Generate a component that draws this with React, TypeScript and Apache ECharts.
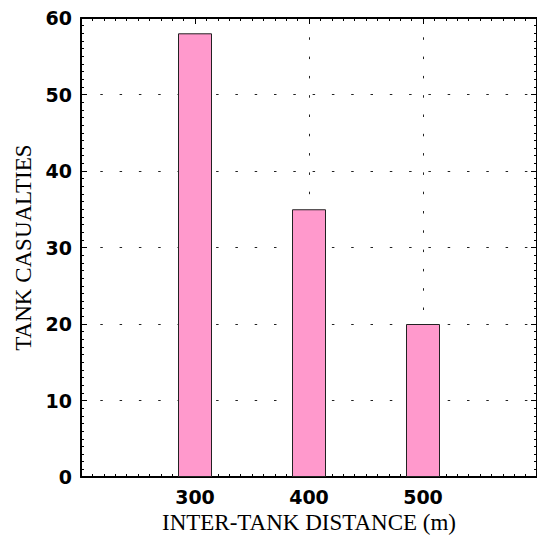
import React, { useEffect, useRef } from "react";
import * as echarts from "echarts";

const distances = [300, 400, 500];
const casualties = [58, 35, 20];
const xTickLabels = ["300", "400", "500"];
const yTickLabels = ["0", "10", "20", "30", "40", "50", "60"];
const xAxisTitle = "INTER-TANK DISTANCE (m)";
const yAxisTitle = "TANK CASUALTIES";

export default function App() {
  const ref = useRef<HTMLDivElement>(null);
  useEffect(() => {
    if (!ref.current) return;
    const chart = echarts.init(ref.current, undefined, { renderer: "svg" });
    const labelFont = { fontFamily: "DejaVu Sans", fontWeight: "bold" as const, fontSize: 19, color: "#000" };
    const nameFont = { fontFamily: "Liberation Serif", fontSize: 23, color: "#000" };
    const gridLine = { show: true, showMinLine: false, showMaxLine: false, lineStyle: { color: "#222", width: 1, type: [2.5, 16.8] as any } };
    const axisLine = { show: true, onZero: false, lineStyle: { color: "#000", width: 2 } };
    const xBase = {
      type: "value" as const,
      min: 200,
      max: 600,
      interval: 100,
      axisLine,
      axisTick: { show: true, inside: true, length: 6, lineStyle: { color: "#000", width: 1 } },
      minorTick: { show: true, splitNumber: 10, length: 3, lineStyle: { color: "#000", width: 1 } },
    };
    const yBase = {
      type: "value" as const,
      min: 0,
      max: 60,
      interval: 10,
      axisLine,
      axisTick: { show: true, inside: true, length: 6, lineStyle: { color: "#000", width: 1 } },
      minorTick: { show: true, splitNumber: 10, length: 3, lineStyle: { color: "#000", width: 1 } },
    };
    chart.setOption({
      animation: false,
      grid: { left: 81, top: 18, width: 459, bottom: 57, containLabel: false },
      xAxis: [
        {
          ...xBase,
          position: "bottom",
          name: xAxisTitle,
          nameLocation: "middle",
          nameGap: 34,
          nameTextStyle: nameFont,
          axisLabel: {
            ...labelFont,
            margin: 10,
            showMinLabel: false,
            showMaxLabel: false,
            formatter: (v: number) => (xTickLabels.includes(String(v)) ? String(v) : ""),
          },
          splitLine: gridLine,
        },
        { ...xBase, position: "top", axisLabel: { show: false }, splitLine: { show: false } },
      ],
      yAxis: [
        {
          ...yBase,
          position: "left",
          name: yAxisTitle,
          nameLocation: "middle",
          nameRotate: 90,
          nameGap: 46,
          nameTextStyle: nameFont,
          axisLabel: {
            ...labelFont,
            margin: 9,
            formatter: (v: number) => (yTickLabels.includes(String(v)) ? String(v) : ""),
          },
          splitLine: gridLine,
        },
        { ...yBase, position: "right", axisLabel: { show: false }, splitLine: { show: false } },
      ],
      series: [
        {
          type: "bar",
          xAxisIndex: 0,
          yAxisIndex: 0,
          barWidth: 34,
          data: distances.map((d, i) => [d, casualties[i]]),
          itemStyle: { color: "#ff99cc", borderColor: "#222", borderWidth: 1 },
          z: 3,
        },
      ],
    });
    return () => chart.dispose();
  }, []);
  return <div ref={ref} style={{ width: 537, height: 539, position: "absolute", left: 0, top: 0, overflow: "hidden" }} />;
}
